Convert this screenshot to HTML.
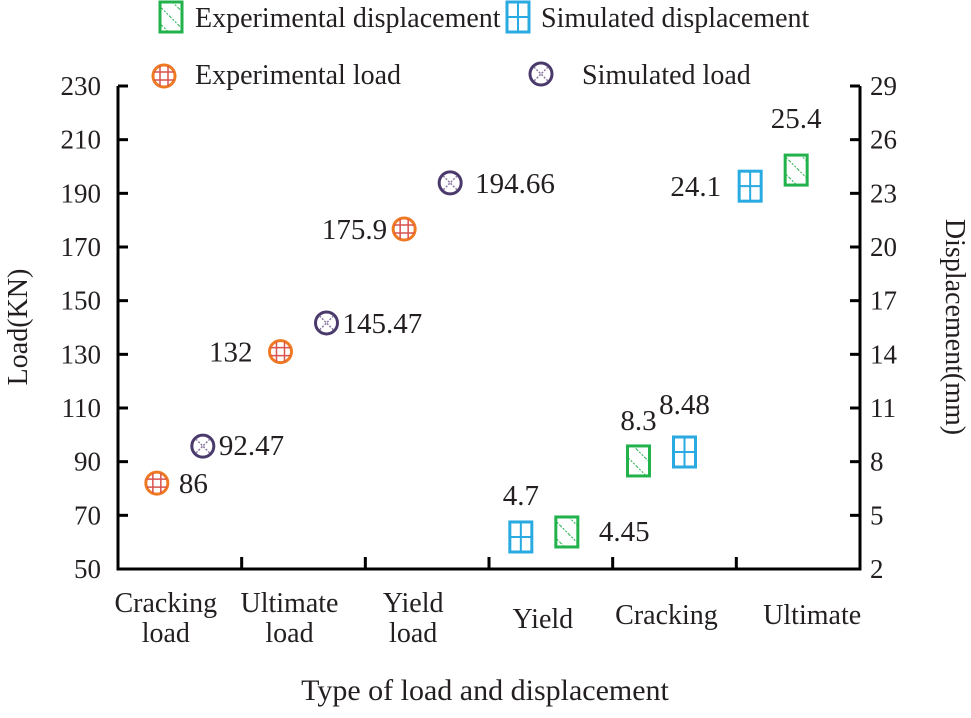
<!DOCTYPE html>
<html><head><meta charset="utf-8"><style>
body{margin:0;background:#fff}
svg text{font-family:"Liberation Serif","Times New Roman",serif;fill:#231f20}
</style></head><body>
<svg id="chart" width="971" height="713">
<defs>
<pattern id="hatch" patternUnits="userSpaceOnUse" width="12" height="12" patternTransform="rotate(-45)">
<line x1="0" y1="0" x2="0" y2="12" stroke="#22b24c" stroke-width="2" stroke-dasharray="2 1.5"/>
</pattern>
</defs>
<g id="axes"></g><g id="marks"></g><g id="legend"></g>
</svg>
<script>
const categories=[["Cracking","load"],["Ultimate","load"],["Yield","load"],["Yield"],["Cracking"],["Ultimate"]];
const expLoad=[82,131,176.7];
const simLoad=[95.8,141.7,193.9];
const expLoadLabels=["86","132","175.9"];
const simLoadLabels=["92.47","145.47","194.66"];
const expDisp=[4.07,8.04,24.3];
const simDisp=[3.79,8.54,23.4];
const expDispLabels=["4.45","8.3","25.4"];
const simDispLabels=["4.7","8.48","24.1"];
const leftTicks=[50,70,90,110,130,150,170,190,210,230];
const rightTicks=[2,5,8,11,14,17,20,23,26,29];

const NS="http://www.w3.org/2000/svg";
const L=118,R=860,T=86,B=569;
const yL=v=>B-(v-50)/(230-50)*(B-T);
const yR=v=>B-(v-2)/(29-2)*(B-T);
const bw=(R-L)/categories.length;
const xC=i=>L+bw*(i+0.5);
const dispShift=[-7,-13,-25];
function el(tag,attrs,parent,txt){const e=document.createElementNS(NS,tag);for(const k in attrs)e.setAttribute(k,attrs[k]);if(txt!==undefined)e.textContent=txt;parent.appendChild(e);return e;}
const axes=document.getElementById('axes'),marks=document.getElementById('marks'),leg=document.getElementById('legend');
const ax={stroke:"#000","stroke-width":3,fill:"none"};
let a=el('path',Object.assign({d:`M${L},${T}V${B}H${R}V${T}`},ax),axes);


leftTicks.forEach(v=>{const y=yL(v);el('line',{x1:L,x2:L+10,y1:y,y2:y,stroke:"#000","stroke-width":3},axes);
const t=el('text',{x:101,y:y+9,"text-anchor":"end","font-size":27},axes,v);

});
rightTicks.forEach(v=>{const y=yR(v);el('line',{x1:R-10,x2:R,y1:y,y2:y,stroke:"#000","stroke-width":3},axes);
const t=el('text',{x:870,y:y+9,"font-size":27},axes,v);

});
for(let i=1;i<categories.length;i++){const x=L+bw*i;el('line',{x1:x,x2:x,y1:B,y2:B-12,stroke:"#000","stroke-width":3},axes);}
categories.forEach((c,i)=>{const x=xC(i)+(i<3?-14:(i==5?14:-8));
c.forEach((s,j)=>{const y=c.length==2?612+j*30:628-(i>3?4:0);
const t=el('text',{x:x,y:y,"text-anchor":"middle","font-size":28},axes,s);

});});
let t=el('text',{x:485,y:700,"text-anchor":"middle","font-size":30},axes,"Type of load and displacement");


t=el('text',{transform:"translate(27,327) rotate(-90)","text-anchor":"middle","font-size":28},axes,"Load(KN)");


t=el('text',{transform:"translate(946,327) rotate(90)","text-anchor":"middle","font-size":28},axes,"Displacement(mm)");



function circle(g,x,y,kind){
 if(kind=='exp'){el('circle',{cx:x,cy:y,r:11,fill:"#fff",stroke:"#f07a22","stroke-width":3},g);
  el('path',{d:`M${x-4},${y-10}V${y+10}M${x+4},${y-10}V${y+10}M${x-10},${y-4}H${x+10}M${x-10},${y+4}H${x+10}`,stroke:"#d9534f","stroke-width":1.5},g);}
 else{el('circle',{cx:x,cy:y,r:11,fill:"#fff",stroke:"#4a3a6b","stroke-width":3},g);
  el('path',{d:`M${x-7},${y-7}L${x+7},${y+7}M${x+7},${y-7}L${x-7},${y+7}`,stroke:"#8a7aa0","stroke-width":1.5,"stroke-dasharray":"2 1.5"},g);}
}
function square(g,x,y,kind){
 if(kind=='exp'){el('rect',{x:x-11,y:y-15,width:22,height:30,fill:"url(#hatch)",stroke:"#22b24c","stroke-width":3},g);}
 else{el('rect',{x:x-11,y:y-15,width:22,height:30,fill:"#fff",stroke:"#29aae1","stroke-width":3},g);
  el('path',{d:`M${x},${y-15}V${y+15}M${x-11},${y}H${x+11}`,stroke:"#29aae1","stroke-width":2},g);}
}
function label(x,y,s,anchor){const t=el('text',{x:x,y:y,"text-anchor":anchor,"font-size":29},marks,s);

}
const loadLab={exp:[[22,10,'start'],[-28,10,'end'],[-17,10,'end']],sim:[[16,9,'start'],[16,10,'start'],[25,10,'start']]};
const dispLab={exp:[[32,9,'start'],[0,-31,'middle'],[0,-42,'middle']],sim:[[0,-32,'middle'],[0,-38,'middle'],[-29,10,'end']]};
expLoad.forEach((v,i)=>{const x=xC(i)-23,y=yL(v);const g=el('g',{},marks);


circle(g,x,y,'exp');const o=loadLab.exp[i];label(x+o[0],y+o[1],expLoadLabels[i],o[2]);});
simLoad.forEach((v,i)=>{const x=xC(i)+23,y=yL(v);const g=el('g',{},marks);


circle(g,x,y,'sim');const o=loadLab.sim[i];label(x+o[0],y+o[1],simLoadLabels[i],o[2]);});
expDisp.forEach((v,i)=>{const x=xC(i+3)+dispShift[i]+(i==1?-23:23),y=yR(v);const g=el('g',{},marks);


square(g,x,y,'exp');const o=dispLab.exp[i];label(x+o[0],y+o[1],expDispLabels[i],o[2]);});
simDisp.forEach((v,i)=>{const x=xC(i+3)+dispShift[i]+(i==1?23:-23),y=yR(v);const g=el('g',{},marks);


square(g,x,y,'sim');const o=dispLab.sim[i];label(x+o[0],y+o[1],simDispLabels[i],o[2]);});

function legItem(name,draw,tx,ty,txt){const g=el('g',{},leg);


draw(g);el('text',{x:tx,y:ty,"font-size":28},g,txt);}
legItem('legend-experimental-displacement',g=>square(g,171,17,'exp'),195,27,"Experimental displacement");
legItem('legend-simulated-displacement',g=>square(g,518,17,'sim'),541,27,"Simulated displacement");
legItem('legend-experimental-load',g=>circle(g,164,76,'exp'),195,84,"Experimental load");
legItem('legend-simulated-load',g=>circle(g,541,74,'sim'),582,84,"Simulated load");
</script>
</body></html>
